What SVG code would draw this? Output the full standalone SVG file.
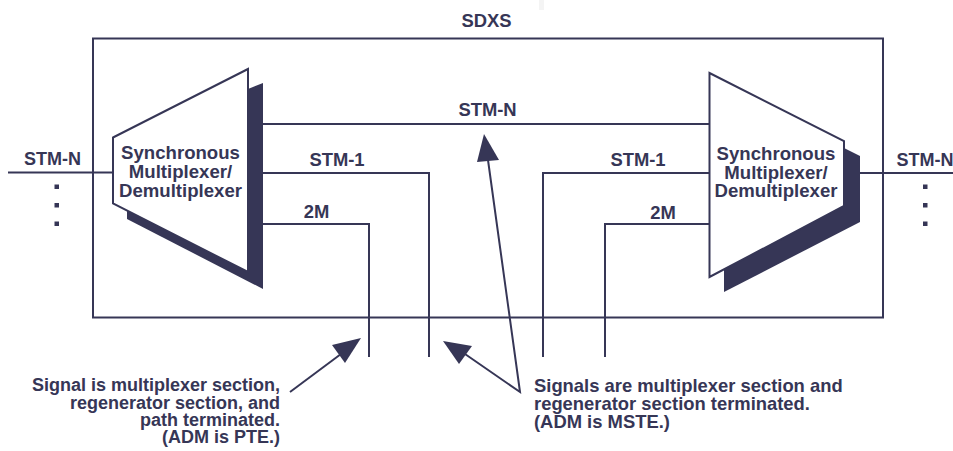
<svg xmlns="http://www.w3.org/2000/svg" width="953" height="451" viewBox="0 0 953 451">
<style>
text{font-family:"Liberation Sans",Arial,sans-serif;font-weight:700;font-size:18.400px;fill:#363656}
.m{text-anchor:middle}
.x{font-size:18.600px}
.e{text-anchor:end;font-size:18px}
.n{font-size:18px}
.l{fill:none;stroke:#363656;stroke-width:2}
.t{fill:#fff;stroke:#363656;stroke-width:2;stroke-linejoin:miter}
.s{fill:#363656}
</style>
<rect x="539" y="0" width="5" height="10" fill="#f4f4f4"/>
<g id="sdxs">
<rect class="l" x="93" y="38.500" width="790" height="279"/>
<text class="m" x="486.500" y="27">SDXS</text>
</g>
<g id="connectors">
<path class="l" d="M8 172.500H112M860 173H953"/>
<path class="l" d="M263 124H710"/>
<path class="l" d="M263 173H429V357M263 224H369V357"/>
<path class="l" d="M710 173H543V357M710 224H605V357"/>
<path class="l" d="M290 392L345 351"/>
<path class="l" d="M488 160L520 392L465 354"/>
<polygon class="s" points="361,338 332,345 345,363"/>
<polygon class="s" points="443,341 472,346 459,364"/>
<polygon class="s" points="484,134 477,162 499,160"/>
</g>
<g id="mux-left">
<polygon class="s" points="248,89 263,83 263,289 127,219 127,205"/>
<polygon class="t" points="113,137.500 248,69 248,272 113,203.500"/>
<text class="m x" x="180.500" y="159">Synchronous</text>
<text class="m x" x="180.500" y="178">Multiplexer/</text>
<text class="m x" x="180.500" y="197">Demultiplexer</text>
</g>
<g id="mux-right">
<polygon class="s" points="844,148 860,156 860,222 724,292 724,262"/>
<polygon class="t" points="709.500,73 844,141 844,206 709.500,277"/>
<text class="m x" x="776" y="160">Synchronous</text>
<text class="m x" x="776" y="179">Multiplexer/</text>
<text class="m x" x="776" y="197">Demultiplexer</text>
</g>
<g id="labels">
<text class="m n" x="52.500" y="165">STM-N</text>
<rect class="s" x="54.500" y="184.500" width="4.500" height="4.500"/>
<rect class="s" x="54.500" y="203" width="4.500" height="4.500"/>
<rect class="s" x="54.500" y="221.500" width="4.500" height="4.500"/>
<text class="m n" x="925" y="166">STM-N</text>
<rect class="s" x="923" y="184.500" width="4.500" height="4.500"/>
<rect class="s" x="923" y="203" width="4.500" height="4.500"/>
<rect class="s" x="923" y="221.500" width="4.500" height="4.500"/>
<text class="m" x="487.500" y="116">STM-N</text>
<text class="m" x="337" y="166">STM-1</text>
<text class="m" x="638" y="166">STM-1</text>
<text class="m" x="316.500" y="218">2M</text>
<text class="m" x="663" y="219">2M</text>
<text class="e" x="280" y="391">Signal is multiplexer section,</text>
<text class="e" x="280" y="409">regenerator section, and</text>
<text class="e" x="280" y="426">path terminated.</text>
<text class="e" x="280" y="443">(ADM is PTE.)</text>
<text x="534" y="392">Signals are multiplexer section and</text>
<text x="534" y="410">regenerator section terminated.</text>
<text x="534" y="428">(ADM is MSTE.)</text>
</g>
</svg>
